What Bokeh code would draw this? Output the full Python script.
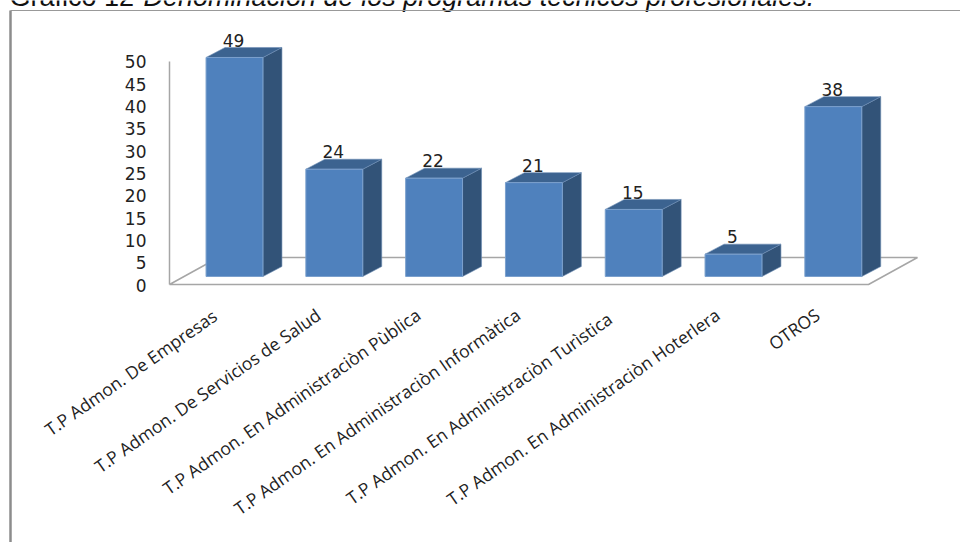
from bokeh.embed import file_html
from bokeh.models import ColumnDataSource, Range1d
from bokeh.plotting import figure
from bokeh.resources import INLINE
from bokeh.core.properties import value

# Programme names and student counts
programas = [
    "T.P Admon. De Empresas",
    "T.P Admon. De Servicios de Salud",
    "T.P Admon. En Administraciòn Pùblica",
    "T.P Admon. En Administraciòn Informàtica",
    "T.P Admon. En Administraciòn Turìstica",
    "T.P Admon. En Administraciòn Hoterlera",
    "OTROS",
]
valores = [49, 24, 22, 21, 15, 5, 38]
marcas_y = [0, 5, 10, 15, 20, 25, 30, 35, 40, 45, 50]

W, H = 960, 542
PASO_X = 99.8      # pixels per category
PASO_Y = 4.47      # pixels per unit of value
ORIGEN_X = 234.0   # pixel centre of the first category
BASE_Y = 276.0     # pixel row of value 0 at the bar fronts

ANCHO = 0.57       # front face width, in categories
FONDO_X = 19 / PASO_X   # depth offset of the extruded bars
FONDO_Y = 10 / PASO_Y

p = figure(
    width=W, height=H, output_backend="svg", toolbar_location=None,
    x_axis_type=None, y_axis_type=None, min_border=0,
    x_range=Range1d(-ORIGEN_X / PASO_X, (W - ORIGEN_X) / PASO_X),
    y_range=Range1d((BASE_Y - H) / PASO_Y, BASE_Y / PASO_Y),
    outline_line_color=None, background_fill_color="white",
    border_fill_color="white",
)
p.grid.visible = False

# Page-pixel coordinates for the frame, floor and text
p.extra_x_ranges["px"] = Range1d(0, W)
p.extra_y_ranges["px"] = Range1d(H, 0)
PX = dict(x_range_name="px", y_range_name="px")

GRIS = "#a6a6a6"

# Caption, cropped by the top of the page
p.text(x=[9], y=[11], text=["Gráfico 12"], text_font=value("Liberation Sans"),
       text_font_size="27px", text_color="#111111", text_baseline="bottom", **PX)
p.text(x=[143], y=[11], text=["Denominación de los programas técnicos profesionales."],
       text_font=value("Liberation Sans"), text_font_style="italic",
       text_font_size="27px", text_color="#111111", text_baseline="bottom", **PX)

# Box around the chart
p.line(x=[10, 10], y=[H, 10], line_color="#8c8c8c", line_width=2.5, **PX)
p.line(x=[10, W], y=[10, 10], line_color="#999999", line_width=1.2, **PX)

# Floor and vertical axis
p.line(x=[169, 218, 917, 868, 169], y=[284, 257, 257, 284, 284],
       line_color=GRIS, line_width=1.5, **PX)
p.line(x=[169, 169], y=[61, 284], line_color=GRIS, line_width=1.5, **PX)

# Bars: side and top faces first, front face over them
xs = list(range(len(valores)))
lado_x, lado_y, tapa_x, tapa_y = [], [], [], []
for i, v in zip(xs, valores):
    der = i + ANCHO / 2
    izq = i - ANCHO / 2
    lado_x.append([der, der + FONDO_X, der + FONDO_X, der])
    lado_y.append([0, FONDO_Y, v + FONDO_Y, v])
    tapa_x.append([izq, der, der + FONDO_X, izq + FONDO_X])
    tapa_y.append([v, v, v + FONDO_Y, v + FONDO_Y])

p.patches(lado_x, lado_y, fill_color="#325378", line_color="#6f8fb5", line_width=0.6)
p.patches(tapa_x, tapa_y, fill_color="#3c6390", line_color="#6f8fb5", line_width=0.6)
p.vbar(x=xs, top=valores, bottom=0, width=ANCHO,
       fill_color="#4f81bd", line_color="#7ba0cd", line_width=1)

# Value labels sitting on the bars' back edge
fuente = ColumnDataSource(dict(
    x=[i - 0.01 for i in xs],
    y=[v + FONDO_Y + 0.2 for v in valores],
    t=[str(v) for v in valores],
))
p.text(x="x", y="y", text="t", source=fuente, text_font=value("DejaVu Sans"),
       text_font_size="17px", text_color="#222222",
       text_align="center", text_baseline="bottom")

# Vertical axis tick labels
p.text(x=[146] * len(marcas_y),
       y=[284.8 - 4.47 * m for m in marcas_y],
       text=[str(m) for m in marcas_y], text_font=value("DejaVu Sans"),
       text_font_size="17px", text_color="#222222",
       text_align="right", text_baseline="middle", **PX)

# Slanted category labels, right-anchored under each bar
desvio_x = [-7, -3, -3, -3, -11, -3, -3]
desvio_y = [1, 0, 0, 0, 4, 0, 0]
p.text(x=[i - 0.13 + d / PASO_X for i, d in zip(xs, desvio_x)],
       y=[312 + d for d in desvio_y], text=programas,
       x_range_name="default", y_range_name="px",
       angle=35, angle_units="deg", text_font=value("Open Sans"),
       text_font_size="17.5px", text_color="#222222",
       text_align="right", text_baseline="middle")

open("out.html", "w").write(file_html(p, INLINE))
